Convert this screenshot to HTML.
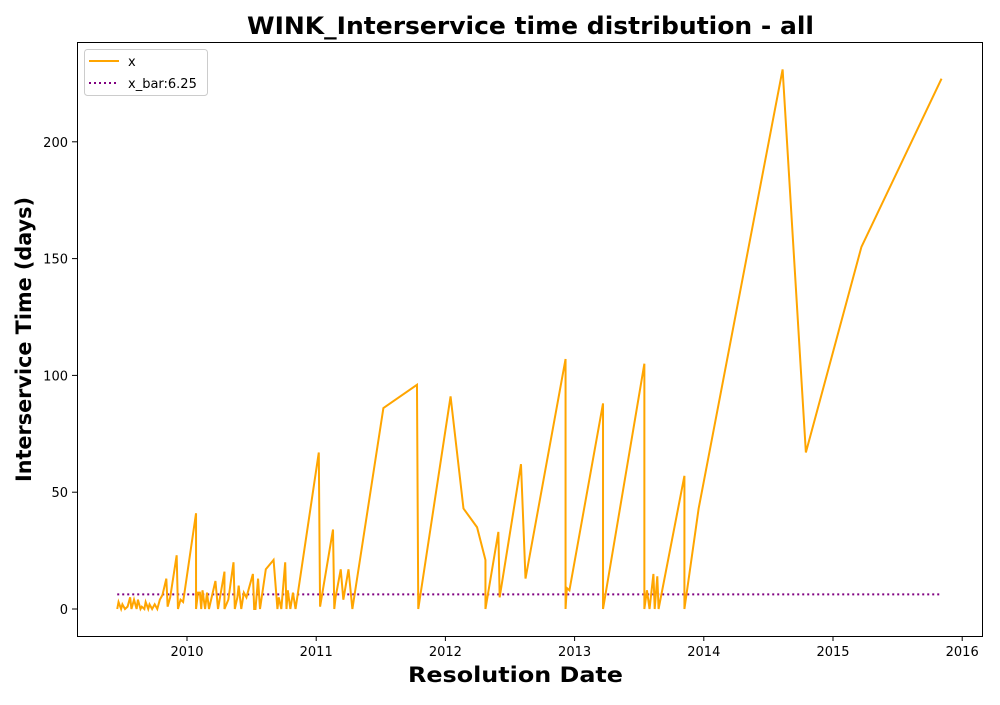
<!DOCTYPE html>
<html><head><meta charset="utf-8"><style>
body{margin:0;background:#fff;font-family:"Liberation Sans","DejaVu Sans",sans-serif}
svg text{font-family:"DejaVu Sans","Liberation Sans",sans-serif}
</style></head><body>
<svg id="chart" width="1000" height="700" xmlns="http://www.w3.org/2000/svg">
<rect width="1000" height="700" fill="#fff"/>
<text x="530.5" y="34" text-anchor="middle" font-size="24" font-weight="bold" textLength="567" lengthAdjust="spacingAndGlyphs">WINK_Interservice time distribution - all</text>
<g id="plot"></g>
<rect x="77.5" y="42.5" width="905" height="594" fill="none" stroke="#000" stroke-width="1"/>
<text x="515.5" y="682" text-anchor="middle" font-size="21" font-weight="bold" textLength="215" lengthAdjust="spacingAndGlyphs">Resolution Date</text>
<text transform="translate(31,339.5) rotate(-90)" text-anchor="middle" font-size="21" font-weight="bold" textLength="285" lengthAdjust="spacingAndGlyphs">Interservice Time (days)</text>
<g>
<rect x="84.5" y="49.5" width="123" height="46" rx="3" fill="#fff" stroke="#ccc"/>
<line x1="89" y1="61" x2="119" y2="61" stroke="orange" stroke-width="2"/>
<text x="128" y="66" font-size="13">x</text>
<line x1="89" y1="83" x2="119" y2="83" stroke="purple" stroke-width="2" stroke-dasharray="2,3"/>
<text x="128" y="88" font-size="13">x_bar:6.25</text>
</g>
</svg>
<script>
const dates=[2009.46,2009.47,2009.49,2009.50,2009.52,2009.54,2009.56,2009.57,2009.59,2009.61,2009.62,2009.64,2009.65,2009.67,2009.68,2009.70,2009.71,2009.73,2009.75,2009.77,2009.79,2009.81,2009.84,2009.85,2009.87,2009.92,2009.93,2009.95,2009.97,2010.07,2010.07,2010.085,2010.10,2010.11,2010.12,2010.14,2010.155,2010.17,2010.22,2010.24,2010.29,2010.29,2010.32,2010.36,2010.37,2010.39,2010.40,2010.42,2010.44,2010.46,2010.51,2010.52,2010.53,2010.55,2010.565,2010.61,2010.67,2010.70,2010.71,2010.73,2010.76,2010.77,2010.78,2010.80,2010.82,2010.84,2011.02,2011.03,2011.13,2011.14,2011.15,2011.19,2011.21,2011.25,2011.28,2011.52,2011.78,2011.79,2012.04,2012.14,2012.245,2012.31,2012.31,2012.41,2012.42,2012.585,2012.62,2012.93,2012.93,2012.94,2012.96,2013.22,2013.22,2013.54,2013.54,2013.56,2013.58,2013.61,2013.62,2013.64,2013.65,2013.85,2013.85,2013.96,2014.61,2014.79,2015.22,2015.84];
const values=[0,3,0,2,0,1,5,0,4,0,4,0,1,0,3,0,2,0,2,0,4,6,13,1,5,23,0,4,3,41,0,7,7,0,8,0,7,0,12,0,16,0,4,20,0,5,10,0,7,5,15,0,0,13,0,17,21,0,5,0,20,0,8,0,7,0,67,1,34,0,5,17,4,17,0,86,96,0,91,43,35,21,0,33,5,62,13,107,0,9,8,88,0,105,0,8,0,15,0,14,0,57,0,43,231,67,155,227];
const meanValue=6.25;
const xTicks=[2010,2011,2012,2013,2014,2015,2016];
const yTicks=[0,50,100,150,200];
const xS=y=>187+(y-2010)*129.2;
const yS=v=>609-v*2.336;
const NS="http://www.w3.org/2000/svg";
const g=document.getElementById('plot');
function mk(t,a){const e=document.createElementNS(NS,t);for(const k in a)e.setAttribute(k,a[k]);g.appendChild(e);return e;}
xTicks.forEach(t=>{
 const l=mk('line',{x1:xS(t),x2:xS(t),y1:636,y2:641,stroke:'#000'});
 
 
 const tx=mk('text',{x:xS(t),y:656,'text-anchor':'middle','font-size':13});
 tx.textContent=t;
 
 
});
yTicks.forEach(t=>{
 const l=mk('line',{x1:72,x2:77,y1:yS(t),y2:yS(t),stroke:'#000'});
 
 
 const tx=mk('text',{x:68,y:yS(t)+5,'text-anchor':'end','font-size':13});
 tx.textContent=t;
 
 
});
const mean=mk('line',{x1:xS(dates[0]),x2:xS(dates[dates.length-1]),y1:yS(meanValue),y2:yS(meanValue),stroke:'purple','stroke-width':2,'stroke-dasharray':'2,3'});


const pl=mk('polyline',{points:dates.map((d,i)=>xS(d)+','+yS(values[i])).join(' '),fill:'none',stroke:'orange','stroke-width':2,'stroke-linejoin':'miter'});


</script>
</body></html>
